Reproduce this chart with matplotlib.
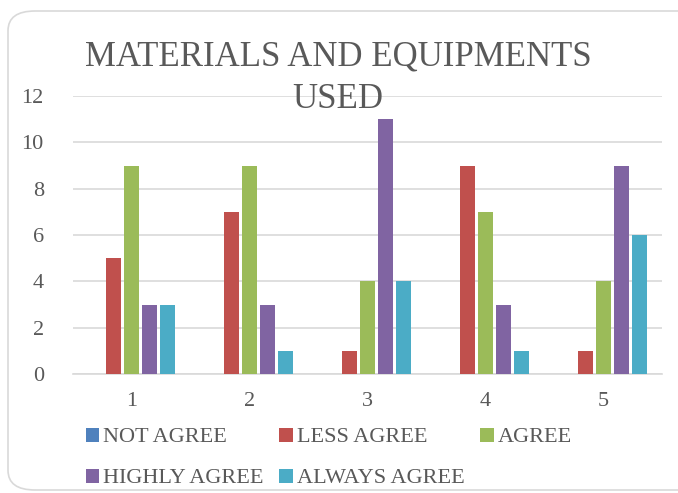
import matplotlib
matplotlib.use("Agg")
import matplotlib.pyplot as plt
from matplotlib.patches import FancyBboxPatch
import numpy as np

categories = ["1", "2", "3", "4", "5"]
series_names = ["NOT AGREE", "LESS AGREE", "AGREE", "HIGHLY AGREE", "ALWAYS AGREE"]
not_agree = [0, 0, 0, 0, 0]
less_agree = [5, 7, 1, 9, 1]
agree = [9, 9, 4, 7, 4]
highly_agree = [3, 3, 11, 3, 9]
always_agree = [3, 1, 4, 1, 6]
colors = ["#4F81BD", "#C0504D", "#9BBB59", "#8064A2", "#4BACC6"]
y_ticks = [0, 2, 4, 6, 8, 10, 12]

plt.rcParams["font.family"] = ["Liberation Serif", "DejaVu Serif"]
text_color = "#595959"

W, H = 678, 493
fig = plt.figure(figsize=(W / 100, H / 100), dpi=100)

# rounded chart border
border = FancyBboxPatch((8 / W, 3 / H), (W + 20) / W, (H - 14) / H,
                        boxstyle="round,pad=0,rounding_size=0.04",
                        transform=fig.transFigure, facecolor="none",
                        edgecolor="#d9d9d9", linewidth=1.2, zorder=-1)
fig.patches.append(border)

left, right = 73 / W, 662 / W
bottom, top = 1 - 374 / H, 1 - 96 / H
ax = fig.add_axes([left, bottom, right - left, top - bottom])
ax.set_facecolor("none")

values = [not_agree, less_agree, agree, highly_agree, always_agree]
x = np.arange(1, len(categories) + 1)
step = 0.153
width = 0.128
for i, (name, vals, c) in enumerate(zip(series_names, values, colors)):
    ax.bar(x + (i - 2) * step, vals, width=width, color=c, label=name, zorder=3)

ax.set_xlim(0.5, 5.5)
ax.set_ylim(0, 12)
ax.set_yticks(y_ticks)
ax.set_xticks(x)
ax.set_xticklabels(categories)
ax.yaxis.grid(True, color="#d9d9d9", linewidth=1.2, zorder=0)
ax.set_axisbelow(True)
for s in ["top", "right", "left"]:
    ax.spines[s].set_visible(False)
ax.spines["bottom"].set_color("#d9d9d9")
ax.spines["bottom"].set_linewidth(1.2)
ax.tick_params(axis="both", length=0, labelsize=16, colors=text_color)
ax.tick_params(axis="y", pad=21)
ax.tick_params(axis="x", pad=13)

fig.text(338 / W, 1 - 57 / H, "MATERIALS AND EQUIPMENTS", ha="center", va="center",
         fontsize=25, color=text_color)
fig.text(338 / W, 1 - 100 / H, "USED", ha="center", va="center",
         fontsize=25, color=text_color)

# legend filled row by row: reorder for matplotlib's column-major layout
handles, labels = ax.get_legend_handles_labels()
order = [0, 3, 1, 4, 2]
leg = fig.legend([handles[i] for i in order], [labels[i] for i in order],
                 ncol=3, loc="upper left",
                 bbox_to_anchor=(70 / W, 1 - 412 / H), frameon=False,
                 fontsize=16, labelcolor=text_color, handlelength=0.6,
                 handleheight=0.6, handletextpad=0.2, columnspacing=0.7,
                 labelspacing=0.95, borderpad=0.2)

fig.savefig("out.png", dpi=100)
